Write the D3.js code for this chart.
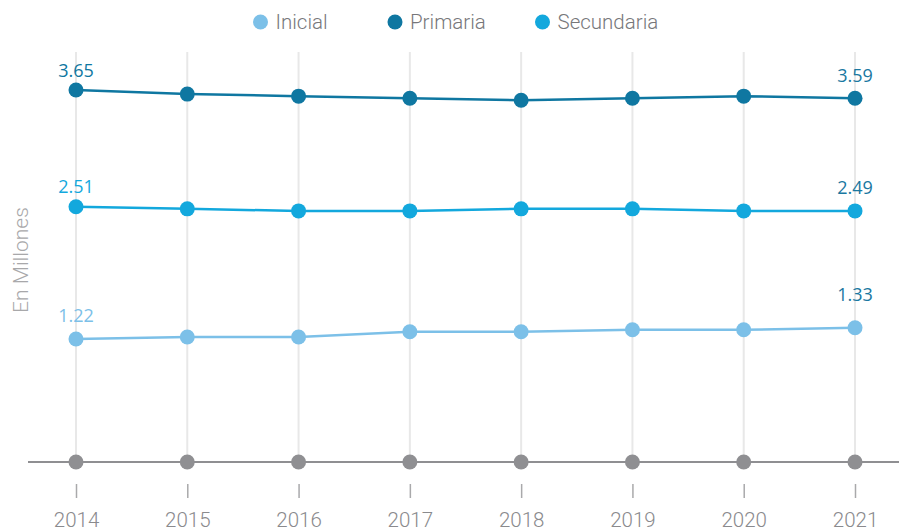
<!DOCTYPE html>
<html><head><meta charset="utf-8">
<script src="https://cdn.jsdelivr.net/npm/d3@7"></script>
<style>
html,body{margin:0;padding:0;background:#fff;}
svg{display:block;}
</style></head>
<body>
<svg id="chart" width="899" height="531"></svg>
<script>
const years = ["2014","2015","2016","2017","2018","2019","2020","2021"];
const inicial = [1.22, 1.24, 1.24, 1.29, 1.29, 1.31, 1.31, 1.33];
const primaria = [3.65, 3.61, 3.59, 3.57, 3.55, 3.57, 3.59, 3.57];
const secundaria = [2.51, 2.49, 2.47, 2.47, 2.49, 2.49, 2.47, 2.47];
const primariaLabels = ["3.65", "3.59"];
const secundariaLabels = ["2.51", "2.49"];
const inicialLabels = ["1.22", "1.33"];
const seriesNames = ["Inicial", "Primaria", "Secundaria"];
const baseline = [0,0,0,0,0,0,0,0];

const colors = {Inicial:"#7cc0e8", Primaria:"#0f77a1", Secundaria:"#13a8dd"};
const labelDark = "#1a78a1";

const svg = d3.select("#chart");
const x = d3.scalePoint().domain(years).range([76, 855]);
const y = d3.scaleLinear().domain([0, 3.65]).range([464, 90]);

// vertical grid lines
svg.append("g").selectAll("line").data(years).join("line")
  .attr("x1", d => x(d)).attr("x2", d => x(d))
  .attr("y1", 52).attr("y2", 462)
  .attr("stroke", "#e8e8e8").attr("stroke-width", 2);

// baseline axis line
svg.append("line").attr("x1", 28).attr("x2", 899)
  .attr("y1", 462).attr("y2", 462)
  .attr("stroke", "#8f8f92").attr("stroke-width", 2);

// x axis with ticks
const xAxis = d3.axisBottom(x).tickSize(14).tickPadding(14);
const gx = svg.append("g").attr("transform", "translate(0,484)").call(xAxis);
gx.select(".domain").remove();
gx.selectAll(".tick line").attr("stroke", "#a9a9ab").attr("stroke-width", 1.5);
gx.selectAll(".tick text").attr("fill", "#8a8a8d")
  .style("font-family", "Roboto, 'Liberation Sans', sans-serif")
  .style("font-weight", 300).style("font-size", "20.5px");

// gray dots on baseline
svg.append("g").selectAll("circle").data(baseline).join("circle")
  .attr("cx", (d,i) => x(years[i])).attr("cy", 462).attr("r", 7.5)
  .attr("fill", "#8f8f92");

const data = {Inicial: inicial, Primaria: primaria, Secundaria: secundaria};
const line = d3.line().x((d,i) => x(years[i])).y(d => y(d));

seriesNames.forEach(name => {
  const vals = data[name];
  svg.append("path").datum(vals).attr("d", line)
    .attr("fill", "none").attr("stroke", colors[name]).attr("stroke-width", 2.5);
  svg.append("g").selectAll("circle").data(vals).join("circle")
    .attr("cx", (d,i) => x(years[i])).attr("cy", d => y(d)).attr("r", 7.5)
    .attr("fill", colors[name]);
});

// value labels
const labelSpecs = [
  {vals: primaria, labels: primariaLabels, leftColor: colors.Primaria, dy: [-13, -16]},
  {vals: secundaria, labels: secundariaLabels, leftColor: colors.Secundaria, dy: [-14, -17]},
  {vals: inicial, labels: inicialLabels, leftColor: colors.Inicial, dy: [-17, -27]}
];
labelSpecs.forEach(s => {
  const n = s.vals.length - 1;
  [[0, s.leftColor], [n, labelDark]].forEach(([idx, col], k) => {
    svg.append("text")
      .attr("x", x(years[idx])).attr("y", y(s.vals[idx]) + s.dy[k])
      .attr("text-anchor", "middle").attr("fill", col)
      .style("font-family", "'Open Sans', sans-serif")
      .style("font-size", "18px")
      .text(s.labels[k]);
  });
});

// y axis title
svg.append("text")
  .attr("transform", "translate(28,260) rotate(-90)")
  .attr("text-anchor", "middle").attr("fill", "#a8a8aa")
  .style("font-family", "Roboto, 'Liberation Sans', sans-serif")
  .style("font-weight", 300).style("font-size", "21px")
  .text("En Millones");

// legend
const legendX = [260.5, 395, 542.5];
const lg = svg.append("g");
seriesNames.forEach((name, i) => {
  lg.append("circle").attr("cx", legendX[i]).attr("cy", 22).attr("r", 7.5).attr("fill", colors[name]);
  lg.append("text").attr("x", legendX[i] + 15).attr("y", 29)
    .attr("fill", "#77777a")
    .style("font-family", "Roboto, 'Liberation Sans', sans-serif")
    .style("font-weight", 300).style("font-size", "20.5px")
    .text(name);
});
</script>
</body></html>
